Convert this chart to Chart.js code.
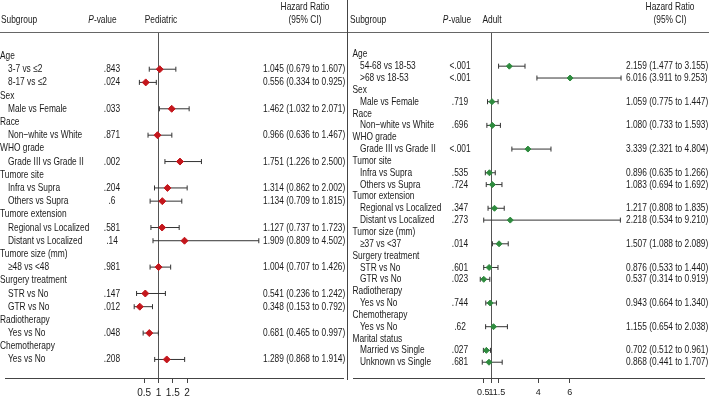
<!DOCTYPE html>
<html lang="en">
<head>
    <meta charset="UTF-8">
    <title>Hazard ratios: Pediatric vs Adult</title>
    <script src="https://cdn.jsdelivr.net/npm/chart.js"></script>
    <style>
        body { margin: 0; background: #fff; }
        #wrap { position: relative; width: 709px; height: 400px; }
        canvas { position: absolute; top: 0; }
        #pedChart { left: 0; }
        #adultChart { left: 348px; }
    </style>
</head>
<body>
<div id="wrap">
    <canvas id="pedChart" width="348" height="400"></canvas>
    <canvas id="adultChart" width="361" height="400"></canvas>
</div>
<script>
    // ---- Pediatric panel data (null HR = group heading row) ----
    const pedLabels = ["Age", "3-7 vs \u22642", "8-17 vs \u22642", "Sex", "Male vs Female", "Race", "Non\u2212white vs White",
        "WHO grade", "Grade III vs Grade II", "Tumore site", "Infra vs Supra", "Others vs Supra",
        "Tumore extension", "Regional vs Localized", "Distant vs Localized", "Tumore size (mm)", "\u226548 vs <48",
        "Surgery treatment", "STR vs No", "GTR vs No", "Radiotherapy", "Yes vs No", "Chemotherapy", "Yes vs No"];
    const pedP  = [null, ".843", ".024", null, ".033", null, ".871", null, ".002", null, ".204", ".6",
        null, ".581", ".14", null, ".981", null, ".147", ".012", null, ".048", null, ".208"];
    const pedHR = [null, 1.045, 0.556, null, 1.462, null, 0.966, null, 1.751, null, 1.314, 1.134,
        null, 1.127, 1.909, null, 1.004, null, 0.541, 0.348, null, 0.681, null, 1.289];
    const pedLo = [null, 0.679, 0.334, null, 1.032, null, 0.636, null, 1.226, null, 0.862, 0.709,
        null, 0.737, 0.809, null, 0.707, null, 0.236, 0.153, null, 0.465, null, 0.868];
    const pedHi = [null, 1.607, 0.925, null, 2.071, null, 1.467, null, 2.500, null, 2.002, 1.815,
        null, 1.723, 4.502, null, 1.426, null, 1.242, 0.792, null, 0.997, null, 1.914];
    const pedTicks = [0.5, 1, 1.5, 2];

    // ---- Adult panel data ----
    const adultLabels = ["Age", "54-68 vs 18-53", ">68 vs 18-53", "Sex", "Male vs Female", "Race", "Non\u2212white vs White",
        "WHO grade", "Grade III vs Grade II", "Tumor site", "Infra vs Supra", "Others vs Supra",
        "Tumor extension", "Regional vs Localized", "Distant vs Localized", "Tumor size (mm)", "\u226537 vs <37",
        "Surgery treatment", "STR vs No", "GTR vs No", "Radiotherapy", "Yes vs No", "Chemotherapy", "Yes vs No",
        "Marital status", "Married vs Single", "Unknown vs Single"];
    const adultP  = [null, "<.001", "<.001", null, ".719", null, ".696", null, "<.001", null, ".535", ".724",
        null, ".347", ".273", null, ".014", null, ".601", ".023", null, ".744", null, ".62", null, ".027", ".681"];
    const adultHR = [null, 2.159, 6.016, null, 1.059, null, 1.080, null, 3.339, null, 0.896, 1.083,
        null, 1.217, 2.218, null, 1.507, null, 0.876, 0.537, null, 0.943, null, 1.155, null, 0.702, 0.868];
    const adultLo = [null, 1.477, 3.911, null, 0.775, null, 0.733, null, 2.321, null, 0.635, 0.694,
        null, 0.808, 0.534, null, 1.088, null, 0.533, 0.314, null, 0.664, null, 0.654, null, 0.512, 0.441];
    const adultHi = [null, 3.155, 9.253, null, 1.447, null, 1.593, null, 4.804, null, 1.266, 1.692,
        null, 1.835, 9.210, null, 2.089, null, 1.440, 0.919, null, 1.340, null, 2.038, null, 0.961, 1.707];
    const adultTicks = [0.5, 1, 1.5, 4, 6];

    const FONT = '"Liberation Sans", Arial, sans-serif';
    const FSIZE = 11;
    const SX = 0.76;         // the original text is horizontally condensed
    const AXIS_BOTTOM = 378; // y of the x axis line

    function drawText(ctx, s, x, y, align, font) {
        ctx.save();
        ctx.font = font || (FSIZE + 'px ' + FONT);
        ctx.translate(x, y);
        ctx.scale(SX, 1);
        ctx.textAlign = align;
        ctx.textBaseline = 'middle';
        ctx.fillText(s, 0, 0);
        ctx.restore();
    }

    const forestText = {
        id: 'forestText',
        beforeDatasetsDraw(chart, args, o) {
            const ctx = chart.ctx, xs = chart.scales.x, a = chart.chartArea;
            ctx.save();
            ctx.lineWidth = 1;
            ctx.strokeStyle = '#666';
            ctx.beginPath();
            ctx.moveTo(0, 32.5); ctx.lineTo(chart.width, 32.5);
            ctx.stroke();
            ctx.strokeStyle = '#555';
            const x1 = Math.round(xs.getPixelForValue(1)) + 0.5;
            ctx.beginPath();
            ctx.moveTo(x1, 33); ctx.lineTo(x1, a.bottom);
            ctx.stroke();
            if (o.divider) {
                ctx.strokeStyle = '#444';
                ctx.beginPath();
                ctx.moveTo(chart.width - 0.5, 0); ctx.lineTo(chart.width - 0.5, a.bottom + 2);
                ctx.stroke();
            }
            ctx.restore();
        },
        afterDraw(chart, args, o) {
            const ctx = chart.ctx, ys = chart.scales.y;
            ctx.save();
            ctx.fillStyle = '#1a1a1a';
            // header
            drawText(ctx, 'Subgroup', o.subX, 20, 'left');
            ctx.font = 'italic ' + FSIZE + 'px ' + FONT;
            const wP = ctx.measureText('P').width * SX;
            ctx.font = FSIZE + 'px ' + FONT;
            const wV = ctx.measureText('-value').width * SX;
            const p0 = o.pHeadX - (wP + wV) / 2;
            drawText(ctx, 'P', p0, 20, 'left', 'italic ' + FSIZE + 'px ' + FONT);
            drawText(ctx, '-value', p0 + wP, 20, 'left');
            drawText(ctx, o.title, o.titleX, 20, 'center');
            drawText(ctx, 'Hazard Ratio', o.hrHeadX, 6.5, 'center');
            drawText(ctx, '(95% CI)', o.hrHeadX, 20, 'center');
            // rows
            o.labels.forEach((lab, i) => {
                const y = ys.getPixelForValue(i);
                if (o.hr[i] == null) {
                    drawText(ctx, lab, o.groupX, y, 'left');
                    return;
                }
                drawText(ctx, lab, o.itemX, y, 'left');
                drawText(ctx, o.p[i], o.pX, y, 'center');
                drawText(ctx, o.hr[i].toFixed(3) + ' (' + o.lo[i].toFixed(3) + ' to ' + o.hi[i].toFixed(3) + ')', o.hrX, y, 'left');
            });
            ctx.restore();
        }
    };

    function forest(id, d) {
        const whiskers = [], points = [];
        d.hr.forEach((v, i) => {
            if (v == null) return;
            whiskers.push({ x: d.lo[i], y: i }, { x: d.hi[i], y: i }, { x: d.hi[i], y: null });
            points.push({ x: v, y: i });
        });
        const w = document.getElementById(id).width;
        return new Chart(document.getElementById(id), {
            type: 'scatter',
            data: {
                datasets: [
                    {
                        data: points,
                        pointStyle: 'rectRot',
                        pointRadius: d.r,
                        backgroundColor: d.color,
                        borderColor: d.color,
                        order: 1
                    },
                    {
                        data: whiskers,
                        showLine: true,
                        spanGaps: false,
                        borderColor: '#333',
                        borderWidth: 1,
                        pointStyle: 'line',
                        rotation: 90,
                        pointRadius: 2.5,
                        pointBorderColor: '#333',
                        pointBorderWidth: 1,
                        order: 2
                    }
                ]
            },
            options: {
                responsive: false,
                animation: false,
                events: [],
                layout: { padding: 0 },
                scales: {
                    x: {
                        type: 'linear',
                        min: 1 - d.refPx / d.unitPx,
                        max: 1 + (w - d.refPx) / d.unitPx,
                        afterBuildTicks: s => { s.ticks = d.ticks.map(v => ({ value: v })); },
                        afterFit: s => { s.height = 400 - AXIS_BOTTOM; },
                        border: { display: true, color: '#444', width: 1 },
                        grid: { drawOnChartArea: false, drawTicks: true, tickLength: 5, color: '#444' },
                        ticks: {
                            autoSkip: false, maxRotation: 0, minRotation: 0, padding: 4,
                            color: '#222', font: { family: FONT, size: d.tickSize },
                            callback: v => String(v)
                        }
                    },
                    y: {
                        type: 'linear',
                        display: false,
                        reverse: true,
                        min: -d.row0 / d.step,
                        max: (AXIS_BOTTOM - d.row0) / d.step
                    }
                },
                plugins: {
                    legend: { display: false },
                    tooltip: { enabled: false },
                    forestText: d.text
                }
            },
            plugins: [forestText]
        });
    }

    forest('pedChart', {
        hr: pedHR, lo: pedLo, hi: pedHi, ticks: pedTicks,
        color: '#c4161c', r: 3.5, tickSize: 10,
        refPx: 158, unitPx: 29.5, row0: 51.7, step: 13.37,
        text: {
            labels: pedLabels, p: pedP, hr: pedHR, lo: pedLo, hi: pedHi, divider: true,
            title: 'Pediatric', subX: 1, groupX: 0, itemX: 8, pHeadX: 102.5, pX: 112,
            titleX: 161, hrHeadX: 305, hrX: 263
        }
    });

    forest('adultChart', {
        hr: adultHR, lo: adultLo, hi: adultHi, ticks: adultTicks,
        color: '#2e8b3e', r: 3, tickSize: 9,
        refPx: 142, unitPx: 16.2, row0: 50, step: 12.0,
        text: {
            labels: adultLabels, p: adultP, hr: adultHR, lo: adultLo, hi: adultHi, divider: false,
            title: 'Adult', subX: 2, groupX: 4.5, itemX: 12, pHeadX: 109, pX: 112,
            titleX: 144, hrHeadX: 322, hrX: 278
        }
    });
</script>
</body>
</html>
